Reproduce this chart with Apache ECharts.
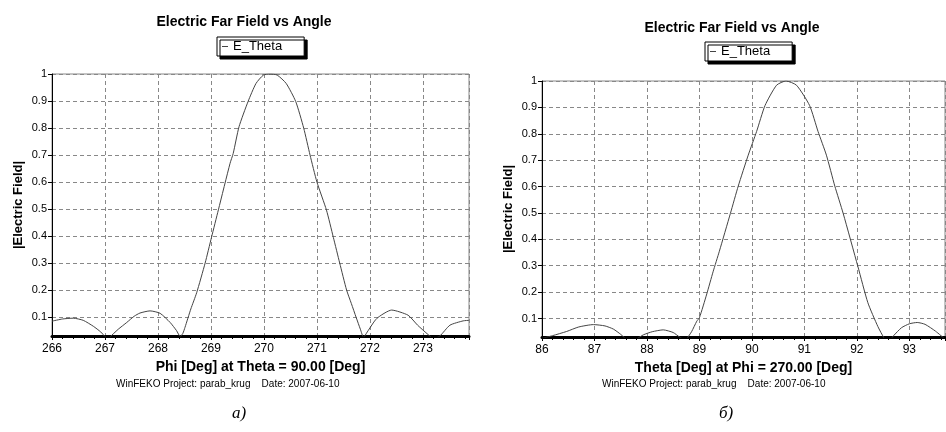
<!DOCTYPE html>
<html>
<head>
<meta charset="utf-8">
<script src="https://cdn.jsdelivr.net/npm/echarts@6/dist/echarts.min.js"></script>
<style>
  html, body { margin: 0; padding: 0; background: #fff; }
  #chart { width: 946px; height: 432px; }
</style>
</head>
<body>
<div id="chart"></div>
<script>
// а) cut in phi at theta = 90 deg
const phiDeg = [266.0, 266.2, 266.4, 266.59, 266.78, 266.92, 267.0, 267.06, 267.13, 267.25, 267.41, 267.55, 267.66, 267.85, 268.04, 268.23, 268.35, 268.42, 268.47, 268.51, 268.62, 268.73, 268.89, 269.01, 269.14, 269.36, 269.42, 269.53, 269.7, 269.85, 269.99, 270.12, 270.25, 270.42, 270.6, 270.75, 270.87, 271.0, 271.18, 271.31, 271.43, 271.56, 271.65, 271.74, 271.82, 271.88, 271.95, 272.13, 272.41, 272.72, 272.9, 273.1, 273.2, 273.32, 273.51, 273.76, 273.87];
const phiField = [0.085, 0.093, 0.096, 0.088, 0.066, 0.045, 0.028, 0.02, 0.033, 0.055, 0.08, 0.103, 0.115, 0.123, 0.114, 0.08, 0.05, 0.028, 0.04, 0.062, 0.13, 0.19, 0.30, 0.395, 0.497, 0.669, 0.706, 0.805, 0.898, 0.965, 0.996, 1.0, 0.996, 0.965, 0.898, 0.80, 0.70, 0.60, 0.496, 0.395, 0.30, 0.2, 0.15, 0.099, 0.055, 0.025, 0.045, 0.095, 0.126, 0.107, 0.07, 0.035, 0.02, 0.03, 0.07, 0.086, 0.088];

// б) cut in theta at phi = 270 deg
const thetaDeg = [86.0, 86.2, 86.47, 86.7, 86.98, 87.2, 87.36, 87.5, 87.64, 87.7, 87.8, 87.93, 88.1, 88.31, 88.5, 88.62, 88.7, 88.76, 88.85, 88.95, 89.0, 89.14, 89.26, 89.38, 89.59, 89.74, 89.93, 90.09, 90.25, 90.47, 90.65, 90.85, 91.1, 91.26, 91.42, 91.58, 91.74, 92.02, 92.21, 92.4, 92.52, 92.58, 92.7, 92.85, 93.0, 93.15, 93.3, 93.5, 93.68];
const thetaField = [0.025, 0.035, 0.051, 0.068, 0.077, 0.072, 0.06, 0.04, 0.015, 0.008, 0.022, 0.038, 0.05, 0.057, 0.047, 0.03, 0.022, 0.025, 0.05, 0.09, 0.103, 0.193, 0.277, 0.355, 0.498, 0.602, 0.719, 0.809, 0.907, 0.984, 1.0, 0.984, 0.907, 0.809, 0.719, 0.602, 0.498, 0.297, 0.16, 0.07, 0.025, 0.008, 0.035, 0.065, 0.08, 0.085, 0.078, 0.052, 0.022];

const yTicks = [0.1, 0.2, 0.3, 0.4, 0.5, 0.6, 0.7, 0.8, 0.9, 1];
const titleText = 'Electric Far Field vs Angle';
const seriesName = 'E_Theta';
const footerText = 'WinFEKO Project: parab_krug    Date: 2007-06-10';

const sans = 'Liberation Sans, Arial, sans-serif';
const narrow = 'Liberation Sans Narrow, Liberation Sans, Arial, sans-serif';

function pairs(xs, ys) {
    return xs.map((x, i) => [x, ys[i]]);
}

function xAxisFor(idx, min, max, name) {
    return {
        type: 'value', gridIndex: idx, min: min, max: max, interval: 1,
        name: name, nameLocation: 'middle', nameGap: 22,
        nameTextStyle: { fontFamily: narrow, fontWeight: 'bold', fontSize: 14, color: '#000' },
        axisLine: { show: true, onZero: false, lineStyle: { color: '#000', width: 3 } },
        axisTick: { show: true, length: 4, lineStyle: { color: '#000' } },
        minorTick: { show: true, splitNumber: 5, length: 3, lineStyle: { color: '#000' } },
        axisLabel: { showMaxLabel: false, fontFamily: narrow, fontSize: 12, color: '#000', margin: 7 },
        splitLine: { show: true, lineStyle: { color: '#888', type: [4, 3], width: 1 } }
    };
}

// min is not a multiple of 0.1, so tick positions are given explicitly
function yAxisFor(idx) {
    return {
        type: 'value', gridIndex: idx, min: 0.03, max: 1,
        name: '|Electric Field|', nameLocation: 'middle', nameGap: 27, nameRotate: 90,
        nameTextStyle: { fontFamily: sans, fontWeight: 'bold', fontSize: 13, color: '#000' },
        axisLine: { show: true, lineStyle: { color: '#000', width: 1 } },
        axisTick: { show: true, length: 4, customValues: yTicks, lineStyle: { color: '#000' } },
        axisLabel: { customValues: yTicks, fontFamily: sans, fontSize: 11, color: '#000', margin: 5 },
        splitLine: { show: true, lineStyle: { color: '#888', type: [4, 3], width: 1 } }
    };
}

function legendFor(left, top) {
    return {
        left: left, top: top, data: [seriesName],
        icon: 'rect', itemWidth: 6, itemHeight: 1,
        padding: [3, 22, 3, 5],
        backgroundColor: '#fff', borderColor: '#000', borderWidth: 1,
        shadowColor: '#000', shadowOffsetX: 3, shadowOffsetY: 3, shadowBlur: 0,
        textStyle: { fontFamily: sans, fontSize: 13, color: '#000' },
        selectedMode: false
    };
}

const chart = echarts.init(document.getElementById('chart'), null, { renderer: 'canvas' });

const option = {
    animation: false,
    backgroundColor: '#fff',
    title: [
        { text: titleText, left: 239, top: 10, textAlign: 'center',
          textStyle: { fontFamily: sans, fontWeight: 'bold', fontSize: 14, color: '#000' } },
        { text: titleText, left: 727, top: 16, textAlign: 'center',
          textStyle: { fontFamily: sans, fontWeight: 'bold', fontSize: 14, color: '#000' } }
    ],
    legend: [legendFor(217, 37), legendFor(705, 42)],
    grid: [
        { left: 52, right: 477, top: 74, bottom: 96, show: true, borderColor: '#888', borderWidth: 1 },
        { left: 542, right: 1, top: 81, bottom: 95, show: true, borderColor: '#888', borderWidth: 1 }
    ],
    xAxis: [
        xAxisFor(0, 266, 273.87, 'Phi [Deg] at Theta = 90.00 [Deg]'),
        xAxisFor(1, 86, 93.68, 'Theta [Deg] at Phi = 270.00 [Deg]')
    ],
    yAxis: [yAxisFor(0), yAxisFor(1)],
    series: [
        { name: seriesName, type: 'line', xAxisIndex: 0, yAxisIndex: 0, data: pairs(phiDeg, phiField),
          showSymbol: false, smooth: 0.2, clip: true,
          lineStyle: { color: '#444', width: 1 }, itemStyle: { color: '#444' } },
        { name: seriesName, type: 'line', xAxisIndex: 1, yAxisIndex: 1, data: pairs(thetaDeg, thetaField),
          showSymbol: false, smooth: 0.2, clip: true,
          lineStyle: { color: '#444', width: 1 }, itemStyle: { color: '#444' } }
    ],
    graphic: [
        { type: 'text', left: 116, top: 379, style: { text: footerText, fontFamily: narrow, fontSize: 10, fill: '#000' } },
        { type: 'text', left: 602, top: 379, style: { text: footerText, fontFamily: narrow, fontSize: 10, fill: '#000' } },
        { type: 'text', left: 232, top: 405, style: { text: 'а)', fontFamily: 'Liberation Serif, Times New Roman, serif', fontStyle: 'italic', fontSize: 17, fill: '#000' } },
        { type: 'text', left: 719, top: 405, style: { text: 'б)', fontFamily: 'Liberation Serif, Times New Roman, serif', fontStyle: 'italic', fontSize: 17, fill: '#000' } }
    ]
};

chart.setOption(option);
</script>
</body>
</html>
